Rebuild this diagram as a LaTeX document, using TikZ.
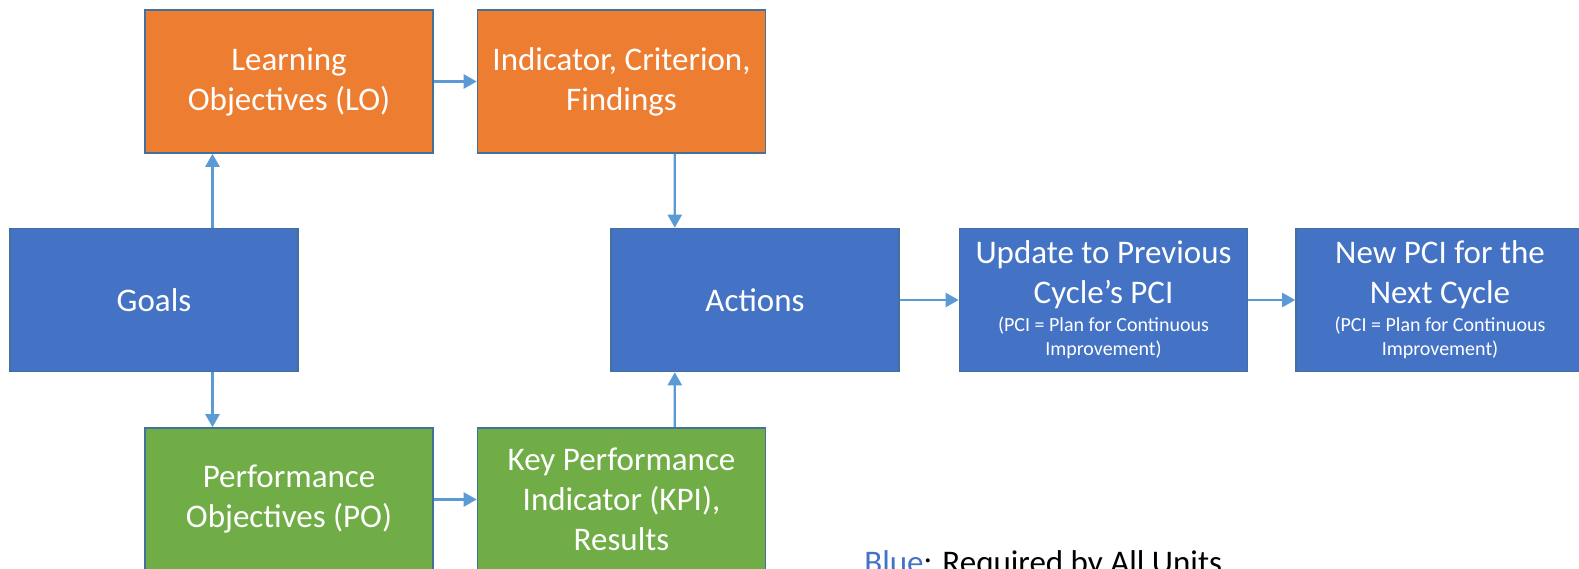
\documentclass[tikz,border=0pt]{standalone}
\usepackage{fontspec}
\setmainfont{Carlito}
\usetikzlibrary{positioning,arrows.meta}
\definecolor{loorange}{HTML}{ED7D31}
\definecolor{reqblue}{HTML}{4472C4}
\definecolor{pogreen}{HTML}{70AD47}
\definecolor{linkblue}{HTML}{5B9BD5}
\definecolor{rimblue}{HTML}{41719C}
\newcommand\pcifont{\fontsize{10pt}{12pt}\selectfont}
\newcommand\pcinote{\\[-6pt]{\pcifont (PCI = Plan for Continuous}\\[-8pt]{\pcifont Improvement)}}

\begin{document}
\begin{tikzpicture}[on grid,
	box/.style={rectangle, draw=rimblue, line width=0.8pt, text=white, minimum width=144pt, minimum height=71.5pt, inner sep=0pt, align=center, font=\fontsize{16.5pt}{20pt}\selectfont},
	lobox/.style={box, fill=loorange},
	reqbox/.style={box, fill=reqblue},
	pobox/.style={box, fill=pogreen},
	link/.style={draw=linkblue, fill=linkblue, line width=1.2pt, -{Triangle[length=6.5pt,width=7pt]}}]
\useasboundingbox (0,0) rectangle (789.5pt,284pt);
\node[reqbox]						(goals)		at (77pt,134pt)								{Goals};
\node[lobox]						(lo)		[above right=109.25pt and 67.5pt of goals]	{Learning\\Objectives (LO)};
\node[lobox]						(icf)		[right=166.25pt of lo]						{Indicator, Criterion,\\Findings};
\node[reqbox]						(actions)	[below right=109.25pt and 66.75pt of icf]	{Actions};
\node[reqbox]						(update)	[right=174.25pt of actions]					{Update to Previous\\Cycle's PCI\pcinote};
\node[reqbox]						(newpci)	[right=168.25pt of update]					{New PCI for the\\Next Cycle\pcinote};
\node[pobox]						(po)		[below right=99.75pt and 67.5pt of goals]	{Performance\\Objectives (PO)};
\node[pobox]						(kpi)		[right=166.25pt of po]						{Key Performance\\Indicator (KPI),\\Results};
\node[anchor=base west, inner sep=0pt, font=\fontsize{16.5pt}{20pt}\selectfont]	(legend)	at (432pt,-2.5pt)	{\textcolor{reqblue}{Blue}: Required by All Units};
\draw[link]	([xshift=29.25pt]goals.north)	--	([xshift=-38.25pt]lo.south);
\draw[link]	([xshift=29.25pt]goals.south)	--	([xshift=-38.25pt]po.north);
\draw[link]	(lo)							--	(icf);
\draw[link]	(po)							--	(kpi);
\draw[link]	([xshift=26.6pt]icf.south)		--	([xshift=-40.1pt]actions.north);
\draw[link]	([xshift=26.6pt]kpi.north)		--	([xshift=-40.1pt]actions.south);
\draw[link]	(actions)						--	(update);
\draw[link]	(update)						--	(newpci);
\end{tikzpicture}
\end{document}
